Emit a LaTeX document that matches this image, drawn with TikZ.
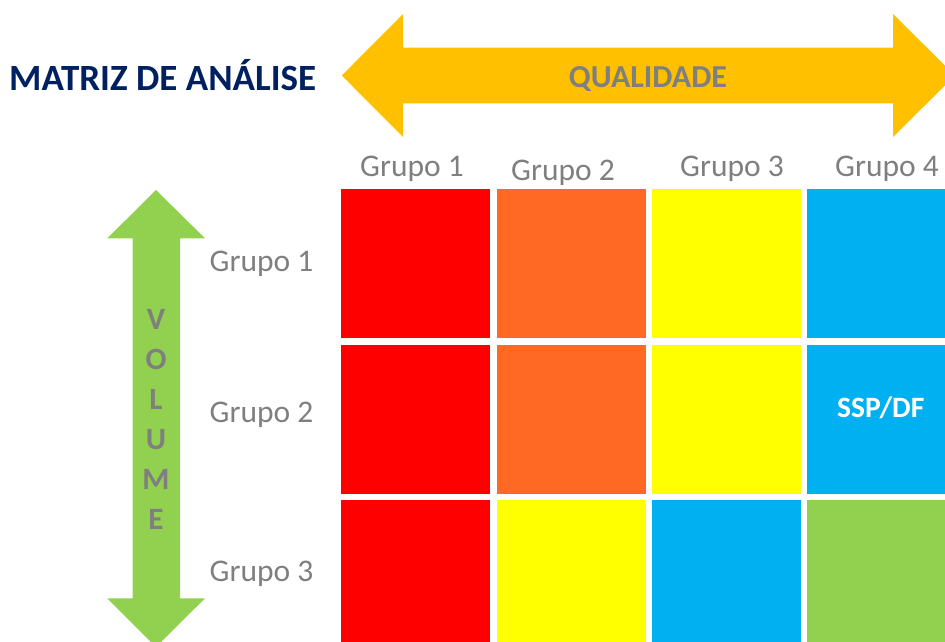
\documentclass[tikz,border=0pt]{standalone}
\usepackage{fontspec}
\setmainfont{Carlito}
\usepackage{xcolor}

\definecolor{navyblue}{HTML}{002060}
\definecolor{labelgray}{HTML}{7F7F7F}
\definecolor{arrowyellow}{HTML}{FFC000}
\definecolor{cellred}{HTML}{FF0000}
\definecolor{cellorange}{HTML}{FF6923}
\definecolor{cellyellow}{HTML}{FFFF00}
\definecolor{cellblue}{HTML}{00B0F0}
\definecolor{cellgreen}{HTML}{92D050}

\begin{document}
\begin{tikzpicture}[x=1pt, y=-1pt]
        % Define styles
        \tikzset{
            cell/.style={rectangle, minimum width=149pt, minimum height=149pt, inner sep=0pt, anchor=north west},
            group/.style={text=labelgray, font=\fontsize{31.5}{38}\selectfont, inner sep=0pt, anchor=base},
            axis/.style={text=labelgray, font=\bfseries\fontsize{32}{38}\selectfont, inner sep=0pt}
        }
        \useasboundingbox (0,0) rectangle (945,642);
        \clip (0,0) rectangle (945,642);

        % Arrows
        \fill[arrowyellow] (341.8,75.5) -- (403,14) -- (403,47.7) -- (893,47.7) -- (893,14) -- (955,75.5)
            -- (893,137) -- (893,103.3) -- (403,103.3) -- (403,137) -- cycle;
        \fill[cellgreen] (156,190) -- (205,238.3) -- (180,238.3) -- (180,598.3) -- (205,598.3) -- (156,647)
            -- (107.3,598.3) -- (132.7,598.3) -- (132.7,238.3) -- (107.3,238.3) -- cycle;

        % Titles
        \node[text=navyblue, font=\bfseries\fontsize{37}{44}\selectfont, inner sep=0pt, anchor=base west] (title_node) at (9,90.7) {MATRIZ DE ANÁLISE};
        \node[axis, anchor=base] (quality_node) at (648,87.7) {QUALIDADE};
        \node[axis, font=\bfseries\fontsize{31}{40}\selectfont, align=center] (volume_node) at (156,419.5) {V\\O\\L\\U\\M\\E};

        % Column labels
        \node[group] (col_node_1) at (412,176.7) {Grupo 1};
        \node[group] (col_node_2) at (563,180) {Grupo 2};
        \node[group] (col_node_3) at (732,176.7) {Grupo 3};
        \node[group] (col_node_4) at (887,176.7) {Grupo 4};

        % Row labels
        \node[group] (row_node_1) at (261.5,271) {Grupo 1};
        \node[group] (row_node_2) at (261.5,422.7) {Grupo 2};
        \node[group] (row_node_3) at (261.5,581.7) {Grupo 3};

        % Cells, row 1
        \node[cell, fill=cellred] (cell_node_1_1) at (341,189) {};
        \node[cell, fill=cellorange] (cell_node_1_2) at (497,189) {};
        \node[cell, fill=cellyellow] (cell_node_1_3) at (652,189) {};
        \node[cell, fill=cellblue] (cell_node_1_4) at (807,189) {};

        % Cells, row 2
        \node[cell, fill=cellred] (cell_node_2_1) at (341,344.3) {};
        \node[cell, fill=cellorange] (cell_node_2_2) at (497,344.3) {};
        \node[cell, fill=cellyellow] (cell_node_2_3) at (652,344.3) {};
        \node[cell, fill=cellblue] (cell_node_2_4) at (807,344.3) {};
        \node[text=white, font=\bfseries\fontsize{29.5}{35}\selectfont, inner sep=0pt, anchor=base] (cell_text_2_4) at (880.7,417) {SSP/DF};

        % Cells, row 3
        \node[cell, fill=cellred] (cell_node_3_1) at (341,499.3) {};
        \node[cell, fill=cellyellow] (cell_node_3_2) at (497,499.3) {};
        \node[cell, fill=cellblue] (cell_node_3_3) at (652,499.3) {};
        \node[cell, fill=cellgreen] (cell_node_3_4) at (807,499.3) {};
    \end{tikzpicture}
\end{document}
